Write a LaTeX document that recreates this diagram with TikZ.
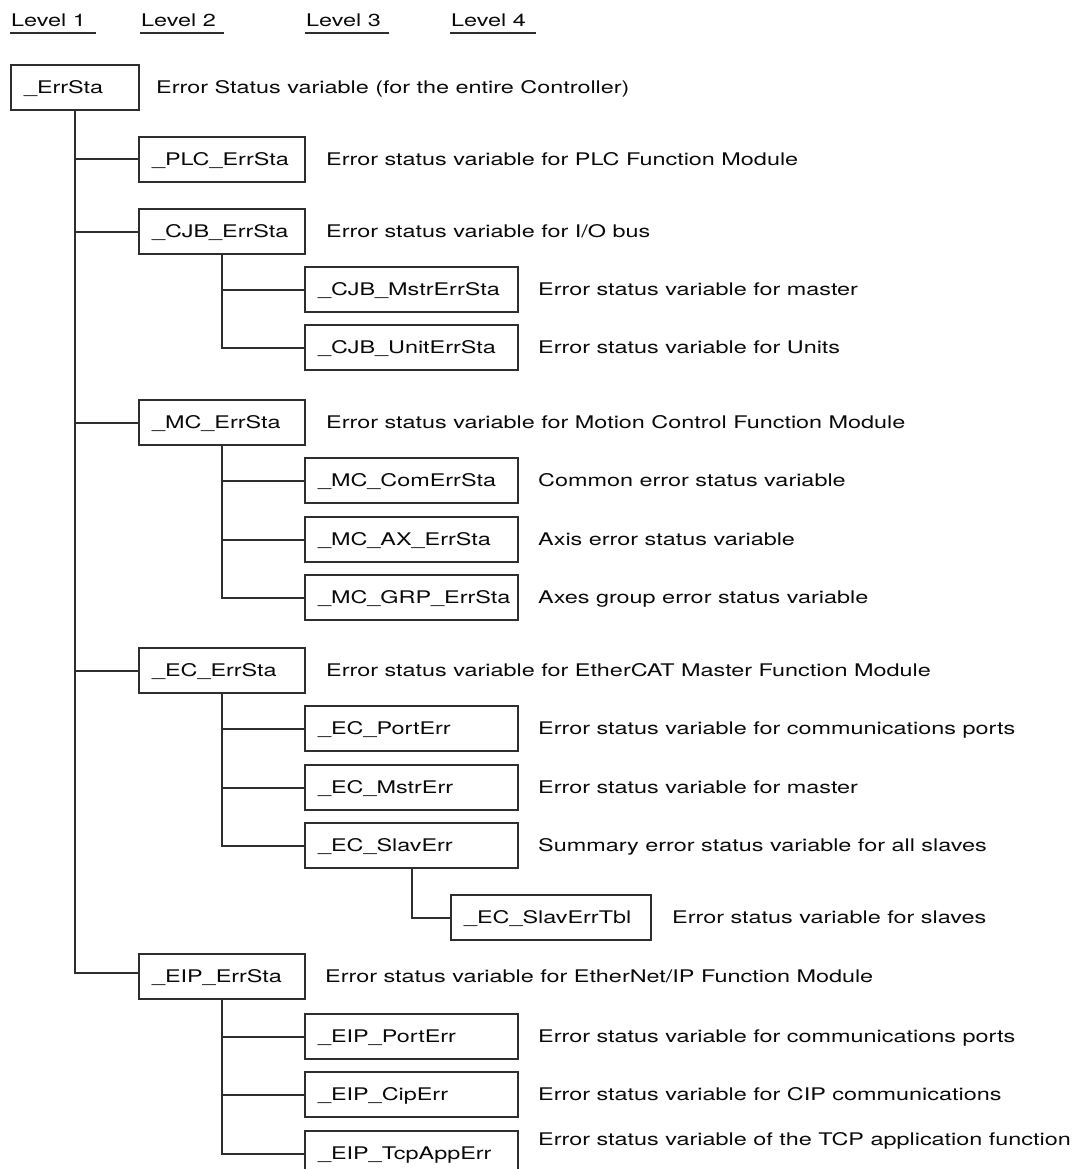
\documentclass[tikz,border=0pt]{standalone}
\usepackage{fontspec}
\setmainfont{TeX Gyre Heros}[FakeStretch=1.345]
\usetikzlibrary{positioning}
\definecolor{linec}{HTML}{2E2E2E}
\definecolor{textc}{HTML}{0A0A0A}
\begin{document}
\begin{tikzpicture}[x=1pt,y=-1pt,
  every node/.style={font=\fontsize{17.4pt}{20pt}\selectfont, text=textc},
  box/.style={draw=linec, line width=2pt, rectangle, anchor=north west,
    minimum height=45pt, inner xsep=13pt, inner ysep=0pt,
    text height=12.4pt, text depth=0pt, align=left},
  bA/.style={box, text width=102pt},
  bB/.style={box, text width=140pt},
  bC/.style={box, text width=187pt},
  bD/.style={box, text width=174pt},
  desc/.style={anchor=west, inner sep=0pt, text height=12.4pt, text depth=0pt},
  hdr/.style={anchor=west, inner sep=0pt, text height=12.4pt, text depth=0pt},
  conn/.style={draw=linec, line width=2pt},
  uline/.style={draw=linec, line width=1.6pt}
]
\useasboundingbox (0,0) rectangle (1077,1169);

% headers
\node[hdr] (h1) at (11,20.5) {Level 1};
\node[hdr] (h2) at (141,20.5) {Level 2};
\node[hdr] (h3) at (306,20.5) {Level 3};
\node[hdr] (h4) at (451,20.5) {Level 4};
\coordinate (u1a) at (10,33); \coordinate (u1b) at (96,33);
\coordinate (u2a) at (140,33); \coordinate (u2b) at (224,33);
\coordinate (u3a) at (305,33); \coordinate (u3b) at (389,33);
\coordinate (u4a) at (450,33); \coordinate (u4b) at (536,33);
\draw[uline] (u1a) -- (u1b);
\draw[uline] (u2a) -- (u2b);
\draw[uline] (u3a) -- (u3b);
\draw[uline] (u4a) -- (u4b);

% boxes
\node[bA] (ErrSta) at (10,64) {\_ErrSta};
\node[bB] (PLC) at (138,136) {\_PLC\_ErrSta};
\node[bB] (CJB) at (138,208) {\_CJB\_ErrSta};
\node[bC] (CJBm) at (304,266) {\_CJB\_MstrErrSta};
\node[bC] (CJBu) at (304,324) {\_CJB\_UnitErrSta};
\node[bB] (MC) at (138,399) {\_MC\_ErrSta};
\node[bC] (MCc) at (304,457) {\_MC\_ComErrSta};
\node[bC] (MCa) at (304,516) {\_MC\_AX\_ErrSta};
\node[bC] (MCg) at (304,574) {\_MC\_GRP\_ErrSta};
\node[bB] (EC) at (138,647) {\_EC\_ErrSta};
\node[bC] (ECp) at (304,705) {\_EC\_PortErr};
\node[bC] (ECm) at (304,764) {\_EC\_MstrErr};
\node[bC] (ECs) at (304,822) {\_EC\_SlavErr};
\node[bD] (ECt) at (450,894) {\_EC\_SlavErrTbl};
\node[bB] (EIP) at (138,953) {\_EIP\_ErrSta};
\node[bC] (EIPp) at (304,1013) {\_EIP\_PortErr};
\node[bC] (EIPc) at (304,1071) {\_EIP\_CipErr};
\node[bC] (EIPt) at (304,1130) {\_EIP\_TcpAppErr};

% descriptions
\node[desc, right=16pt of ErrSta] (dErrSta) {Error Status variable (for the entire Controller)};
\node[desc, right=20pt of PLC] (dPLC) {Error status variable for PLC Function Module};
\node[desc, right=20pt of CJB] (dCJB) {Error status variable for I/O bus};
\node[desc, right=19pt of CJBm] (dCJBm) {Error status variable for master};
\node[desc, right=19pt of CJBu] (dCJBu) {Error status variable for Units};
\node[desc, right=20pt of MC] (dMC) {Error status variable for Motion Control Function Module};
\node[desc, right=19pt of MCc] (dMCc) {Common error status variable};
\node[desc, right=19pt of MCa] (dMCa) {Axis error status variable};
\node[desc, right=19pt of MCg] (dMCg) {Axes group error status variable};
\node[desc, right=20pt of EC] (dEC) {Error status variable for EtherCAT Master Function Module};
\node[desc, right=19pt of ECp] (dECp) {Error status variable for communications ports};
\node[desc, right=19pt of ECm] (dECm) {Error status variable for master};
\node[desc, right=19pt of ECs] (dECs) {Summary error status variable for all slaves};
\node[desc, right=20pt of ECt] (dECt) {Error status variable for slaves};
\node[desc, right=19pt of EIP] (dEIP) {Error status variable for EtherNet/IP Function Module};
\node[desc, right=19pt of EIPp] (dEIPp) {Error status variable for communications ports};
\node[desc, right=19pt of EIPc] (dEIPc) {Error status variable for CIP communications};
\node[desc, anchor=west] (dEIPt) at ([xshift=19pt,yshift=14.5pt]EIPt.east) {Error status variable of the TCP application function};

% connectors
\draw[conn] (ErrSta.south) |- (PLC.west);
\draw[conn] (ErrSta.south) |- (CJB.west);
\draw[conn] (ErrSta.south) |- (MC.west);
\draw[conn] (ErrSta.south) |- (EC.west);
\draw[conn] (ErrSta.south) |- ([yshift=4pt]EIP.west);
\draw[conn] (CJB.south) |- (CJBm.west);
\draw[conn] (CJB.south) |- (CJBu.west);
\draw[conn] (MC.south) |- (MCc.west);
\draw[conn] (MC.south) |- (MCa.west);
\draw[conn] (MC.south) |- (MCg.west);
\draw[conn] (EC.south) |- (ECp.west);
\draw[conn] (EC.south) |- (ECm.west);
\draw[conn] (EC.south) |- (ECs.west);
\draw[conn] (ECs.south) |- (ECt.west);
\draw[conn] (EIP.south) |- (EIPp.west);
\draw[conn] (EIP.south) |- (EIPc.west);
\draw[conn] (EIP.south) |- (EIPt.west);
\end{tikzpicture}
\end{document}
